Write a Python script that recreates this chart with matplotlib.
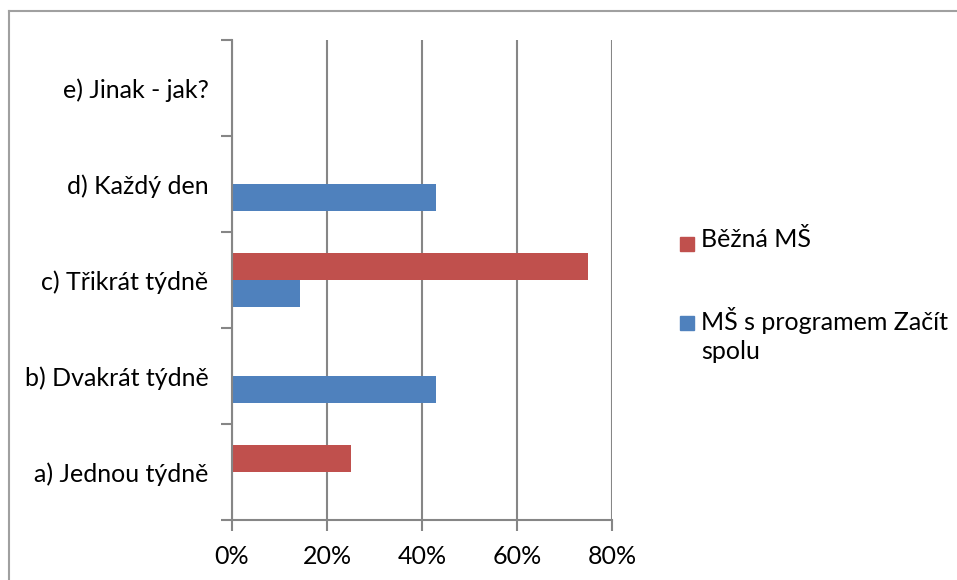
import matplotlib
matplotlib.use("Agg")
import matplotlib.pyplot as plt
from matplotlib.patches import Rectangle
from matplotlib.lines import Line2D
from matplotlib.ticker import FuncFormatter

# data
categories = ["a) Jednou týdně", "b) Dvakrát týdně", "c) Třikrát týdně",
              "d) Každý den", "e) Jinak - jak?"]
bezna_ms = [25, 0, 75, 0, 0]
zacit_spolu = [0, 42.86, 14.29, 42.86, 0]
series_labels = ["Běžná MŠ", "MŠ s programem Začít\nspolu"]
x_ticks = [0, 20, 40, 60, 80]

RED = "#C0504D"
BLUE = "#4F81BD"
GRID = "#868686"

plt.rcParams["font.family"] = ["Lato", "DejaVu Sans"]

W, H = 957, 580
fig = plt.figure(figsize=(W / 100, H / 100), dpi=100)
ax = fig.add_axes([232 / W, 1 - 520 / H, (612 - 232) / W, (520 - 40) / H])

pos = list(range(len(categories)))
h = 0.28
ax.barh([p + h / 2 for p in pos], bezna_ms, height=h, color=RED, label=series_labels[0])
ax.barh([p - h / 2 for p in pos], zacit_spolu, height=h, color=BLUE, label=series_labels[1])

ax.set_xlim(0, 80)
ax.set_ylim(-0.5, len(categories) - 0.5)
ax.set_xticks(x_ticks)
ax.xaxis.set_major_formatter(FuncFormatter(lambda v, _: f"{v:.0f}%"))
ax.set_yticks(pos)
ax.set_yticklabels(categories)
ax.set_yticks([p - 0.5 for p in pos] + [len(pos) - 0.5], minor=True)

ax.grid(axis="x", color=GRID, linewidth=1.5)
ax.set_axisbelow(True)
for side in ["top", "right"]:
    ax.spines[side].set_visible(False)
for side in ["left", "bottom"]:
    ax.spines[side].set_color(GRID)
    ax.spines[side].set_linewidth(1.5)

FS = 18
ax.tick_params(axis="y", which="major", length=0, pad=17, labelsize=FS)
ax.tick_params(axis="y", which="minor", length=8, width=1.5, color=GRID)
ax.tick_params(axis="x", length=8, width=1.5, color=GRID, pad=10, labelsize=FS)

# legend drawn by hand so the marker sits on the first text line, as in Excel
legend_colors = [RED, BLUE]
legend_y = [244, 323]
for color, label, y in zip(legend_colors, series_labels, legend_y):
    fig.add_artist(Rectangle((680 / W, 1 - (y + 7) / H), 14 / W, 14 / H,
                             transform=fig.transFigure, color=color))
    fig.text(701 / W, 1 - (y - 16) / H, label, fontsize=FS, va="top",
             ha="left", linespacing=1.3)

# outer chart border (extends past the image)
fig.add_artist(Line2D([9 / W, 1], [1 - 11 / H, 1 - 11 / H], color="#A0A0A0", linewidth=1.5))
fig.add_artist(Line2D([9 / W, 9 / W], [0, 1 - 11 / H], color="#A0A0A0", linewidth=1.5))

fig.savefig("out.png", dpi=100)
